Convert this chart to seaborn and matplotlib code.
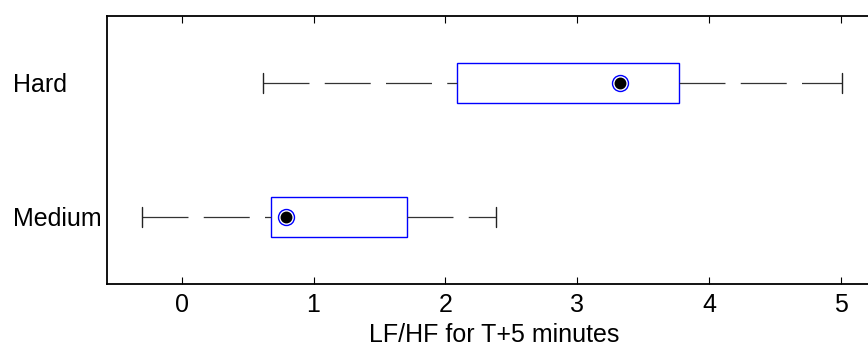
import numpy as np
import pandas as pd
import matplotlib
matplotlib.use("Agg")
import matplotlib.pyplot as plt
import seaborn as sns

# Data: five-number summaries
categories = ["Hard", "Medium"]
whisker_low = [0.62, -0.30]
q1 = [2.09, 0.68]
median = [3.32, 0.79]
q3 = [3.77, 1.71]
whisker_high = [5.01, 2.38]
xticks = [0, 1, 2, 3, 4, 5]
xlabel = "LF/HF for T+5 minutes"

rows = []
for i, c in enumerate(categories):
    for v in (whisker_low[i], q1[i], median[i], q3[i], whisker_high[i]):
        rows.append({"cond": c, "val": v})
df = pd.DataFrame(rows)
med_df = pd.DataFrame({"cond": categories, "val": median})

sns.set_style("white")
plt.rcParams["font.family"] = ["Liberation Sans", "DejaVu Sans"]
plt.rcParams["text.color"] = "black"
plt.rcParams["axes.labelcolor"] = "black"
plt.rcParams["xtick.color"] = "black"
plt.rcParams["ytick.color"] = "black"

fig = plt.figure(figsize=(8.68, 3.5), dpi=100)
ax = fig.add_axes([107 / 868, 66.3 / 350, 773.7 / 868, 267.7 / 350])

blue = "#0000ff"
sns.boxplot(data=df, x="val", y="cond", order=categories, orient="h",
            width=0.3, whis=(0, 100), showfliers=False, fill=True,
            color="white", linecolor=blue, linewidth=1.0, ax=ax,
            whiskerprops=dict(color="#333333", linewidth=0.9),
            capprops=dict(color="#222222", linewidth=1.0),
            medianprops=dict(visible=False))

# MATLAB-like whisker dashes, running left to right
for cont in ax.containers:
    if hasattr(cont, "whiskers"):
        for ln in cont.whiskers:
            x = np.asarray(ln.get_xdata())
            y = np.asarray(ln.get_ydata())
            if x[0] > x[1]:
                ln.set_xdata(x[::-1])
                ln.set_ydata(y[::-1])
            ln.set_linestyle((0, (33.1 / 0.9, 11.0 / 0.9)))

# Median target markers
sns.pointplot(data=med_df, x="val", y="cond", order=categories, orient="h",
              errorbar=None, linestyle="none", marker="o", color=blue,
              markersize=11.5, markerfacecolor="white", markeredgewidth=1.0,
              ax=ax, zorder=5)
sns.pointplot(data=med_df, x="val", y="cond", order=categories, orient="h",
              errorbar=None, linestyle="none", marker="o", color="black",
              markersize=6.5, ax=ax, zorder=6)

ax.set_xlim(-0.566, 5.30)
ax.set_ylim(1.5, -0.5)
ax.set_xticks(xticks)
ax.set_xticklabels([str(t) for t in xticks], fontsize=18, color="black")
ax.set_xlabel(xlabel, fontsize=18, labelpad=4, color="black")
ax.set_ylabel("")
ax.tick_params(axis="x", direction="in", length=5, width=0.8, top=True,
               bottom=True, pad=7, colors="black")
ax.tick_params(axis="y", length=0, pad=67.9, labelsize=18, colors="black")
for lab in ax.get_yticklabels():
    lab.set_horizontalalignment("left")

for s in ax.spines.values():
    s.set_visible(True)
    s.set_color("black")
    s.set_linewidth(1.3)

fig.savefig("out.png", dpi=100, facecolor="white")
